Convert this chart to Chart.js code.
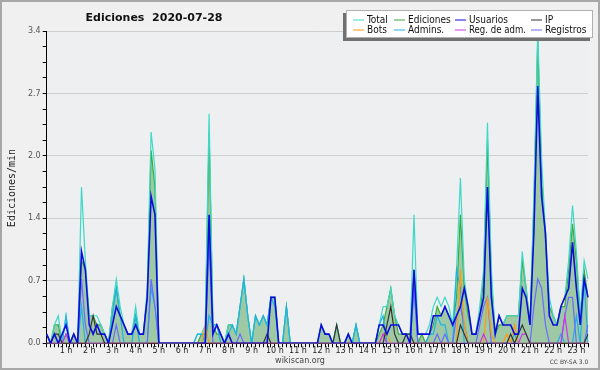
<!DOCTYPE html>
<html><head><meta charset="utf-8">
<script src="https://cdn.jsdelivr.net/npm/chart.js@4/dist/chart.umd.min.js"></script>
<style>html,body{margin:0;padding:0;background:#f0f0f0}canvas{display:block}</style>
</head><body>
<canvas id="c" width="600" height="370"></canvas>
<script>
// ---- data (10-minute bins, first bin 0:10) ----
const times = [];
for (let m = 10; m <= 1410; m += 10) times.push(Math.floor(m/60) + ':' + String(m%60).padStart(2,'0'));
const hourLabels = ['1 h','2 h','3 h','4 h','5 h','6 h','7 h','8 h','9 h','10 h','11 h','12 h','13 h','14 h','15 h','16 h','17 h','18 h','19 h','20 h','21 h','22 h','23 h'];
const yTickLabels = ['0.0','0.7','1.4','2.0','2.7','3.4'];

const total = [
 .1,0,.2,.3,0,.3,  0,.1,0,1.7,.9,.3,  .3,.3,.2,.1,0,.4,  .7,.4,.2,.1,.1,.4,
 .1,.1,.6,2.3,1.9,0,  0,0,0,0,0,0,  0,0,0,.1,.1,.2,  2.5,.2,.2,.1,0,.2,
 .2,.1,.4,.7,.3,0,  .3,.2,.3,.2,.5,.5,  0,0,.4,0,0,0,  0,0,0,0,0,.2,
 .1,.1,0,.2,0,0,  .1,0,.2,0,0,0,  0,0,.2,.4,.4,.6,  .3,.2,.1,.1,.1,1.4,
 .1,.1,.1,.2,.4,.5,  .4,.5,.4,.2,.8,1.8,  .7,.4,.1,.1,.4,.8,  2.4,.8,.1,.3,.2,.3,
 .3,.3,.3,1.0,.6,.2,  1.6,3.4,2.0,1.2,.5,.3,  .2,.4,.5,.9,1.5,1.0,  .3,.9,.7];
const ediciones = [
 0,0,.2,.2,0,.1,  0,.1,0,.9,.8,.3,  .3,.2,.2,.1,0,.4,  .6,.3,.2,.1,.1,.3,
 .1,.1,.5,2.1,1.7,0,  0,0,0,0,0,0,  0,0,0,0,.1,.1,  2.3,.2,.1,.1,0,.2,
 .2,.1,.4,.7,.3,0,  .3,.2,.3,.2,.5,.5,  0,0,.4,0,0,0,  0,0,0,0,0,.2,
 .1,.1,0,.2,0,0,  .1,0,.2,0,0,0,  0,0,.1,.2,.4,.6,  .3,.1,.1,.1,.1,.8,
 0,.1,0,.1,.2,.4,  .3,.4,.3,.2,.5,1.4,  .6,.3,.1,.1,.3,.7,  2.2,.7,.1,.2,.2,.3,
 .3,.3,.3,.9,.6,.2,  1.5,3.3,1.8,1.1,.4,.3,  .2,.4,.4,.8,1.3,.9,  .3,.8,.5];
const usuarios = [
 .1,0,.1,0,.1,.2,  0,.1,0,1.0,.8,.2,  .1,.2,.1,.1,0,.2,  .4,.3,.2,.1,.1,.2,
 .1,.1,.5,1.6,1.4,0,  0,0,0,0,0,0,  0,0,0,0,0,0,  1.4,.1,.2,.1,0,.1,
 0,0,0,0,0,0,  0,0,0,0,.5,.5,  0,0,0,0,0,0,  0,0,0,0,0,.2,
 .1,.1,0,0,0,0,  .1,0,0,0,0,0,  0,0,.2,.2,.1,.2,  .2,.2,.1,.1,0,.8,
 .1,.1,.1,.1,.3,.3,  .3,.4,.3,.2,.3,.4,  .6,.4,.1,.1,.3,.5,  1.7,.5,.1,.3,.2,.2,
 .2,.1,.1,.6,.5,.2,  1.2,2.8,1.6,1.2,.3,.2,  .2,.4,.5,.6,1.1,.6,  .2,.7,.5];
const ip = [
 0,0,.1,.1,0,0,  0,0,0,0,0,.1,  .3,.1,.1,0,0,0,  0,0,0,0,0,0,
 0,0,0,0,0,0,  0,0,0,0,0,0,  0,0,0,0,0,0,  0,0,0,0,0,0,
 0,0,0,0,0,0,  0,0,0,.1,0,0,  0,0,0,0,0,0,  0,0,0,0,0,0,
 0,0,0,.2,0,0,  0,0,0,0,0,0,  0,0,0,0,.2,.4,  .1,0,0,.1,.1,0,
 0,0,0,0,0,0,  0,0,0,0,0,.2,  .1,0,0,0,0,0,  0,0,0,0,0,0,
 .1,0,.1,.2,.1,0,  0,0,0,0,0,0,  0,0,0,0,0,0,  0,0,.1];
const bots = [
 0,0,0,0,0,0,  0,0,0,0,0,0,  0,0,0,0,0,0,  0,0,0,0,0,0,
 0,0,0,0,0,0,  0,0,0,0,0,0,  0,0,0,0,0,.2,  0,0,0,0,0,0,
 0,0,0,0,0,0,  0,0,0,0,0,0,  0,0,0,0,0,0,  0,0,0,0,0,0,
 0,0,0,0,0,0,  0,0,0,0,0,0,  0,0,0,.1,.1,0,  0,0,0,0,0,0,
 0,0,0,0,0,0,  0,0,0,0,0,.8,  .2,0,0,0,0,0,  .5,.1,0,0,0,.1,
 0,.2,0,0,0,0,  0,0,0,0,0,0,  0,0,0,0,0,0,  0,0,0];
const admins = [
 0,0,0,0,0,.3,  0,0,0,.4,0,0,  0,0,0,0,0,.3,  .6,.3,0,0,0,.3,
 0,0,0,.6,.4,0,  0,0,0,0,0,0,  0,0,0,.1,.1,0,  .3,.2,.2,0,0,.1,
 .2,.1,.4,.7,.3,0,  .3,.2,.3,.2,.5,.4,  0,0,.4,0,0,0,  0,0,0,0,0,0,
 0,0,0,0,0,0,  0,0,.2,0,0,0,  0,0,.2,.3,0,0,  0,0,0,0,0,.6,
 0,0,0,.1,.1,.3,  .2,.2,0,0,.8,.6,  0,0,0,0,0,0,  0,0,0,0,0,0,
 0,.1,0,0,0,0,  0,0,0,0,0,0,  0,.1,0,0,0,.3,  0,.7,0];
const regAdm = [
 0,0,0,0,0,.1,  0,0,0,0,0,0,  0,0,0,0,0,0,  0,0,0,0,0,0,
 0,0,0,0,0,0,  0,0,0,0,0,0,  0,0,0,0,0,0,  0,0,0,0,0,0,
 0,0,0,0,0,0,  0,0,0,0,0,0,  0,0,0,0,0,0,  0,0,0,0,0,0,
 0,0,0,0,0,0,  0,0,0,0,0,0,  0,0,0,.1,0,0,  0,0,0,0,0,0,
 0,0,0,0,0,0,  0,0,0,0,0,0,  0,0,0,0,0,.1,  0,0,0,0,0,0,
 0,0,0,.1,.1,0,  0,0,0,0,0,0,  0,0,.3,0,0,0,  0,0,0];
const registros = [
 .1,0,0,0,0,0,  0,0,0,.7,.2,0,  0,0,0,0,0,0,  .2,0,0,0,0,0,
 0,0,0,.7,.4,0,  0,0,0,0,0,0,  0,0,0,0,0,0,  1.1,0,0,0,0,0,
 0,0,.1,0,0,0,  0,0,0,0,0,0,  0,0,0,0,0,0,  0,0,0,0,0,0,
 0,0,0,0,0,0,  0,0,0,0,0,0,  0,0,0,0,0,0,  0,0,0,0,0,.6,
 0,0,0,0,0,.1,  0,.1,0,0,.3,.4,  .2,0,0,0,.2,.4,  .5,0,0,0,0,0,
 0,0,0,0,0,0,  .4,.7,.6,.2,0,0,  0,0,.3,.5,.5,0,  0,0,.2];

const seriesNames = ['Total','Ediciones','Usuarios','IP','Bots','Admins.','Reg. de adm.','Registros'];
const seriesData = [total, ediciones, usuarios, ip, bots, admins, regAdm, registros];
const seriesColors = ['#3ed8c6','#3aaa3a','#0c0cdc','#333333','#ff9a10','#1eb2e6','#cc33ee','#6b6bff'];
const seriesOrder = [9, 10, 3, 4, 6, 8, 5, 7];

const datasets = seriesNames.map((n, k) => ({
  label: n,
  data: seriesData[k],
  borderColor: seriesColors[k],
  backgroundColor: k === 1 ? 'rgba(52,148,60,0.42)' : seriesColors[k],
  fill: k === 1 ? 'origin' : false,
  borderWidth: k === 2 ? 1.6 : 1.2,
  pointRadius: 0,
  tension: 0,
  order: seriesOrder[k]
}));

const decor = {
  id: 'decor',
  beforeDraw(chart) {
    const c = chart.ctx, a = chart.chartArea;
    c.save();
    c.fillStyle = '#f0f0f0';
    c.fillRect(0, 0, chart.width, chart.height);
    c.fillStyle = '#edeff1';
    c.fillRect(a.left, a.top, a.right - a.left, a.bottom - a.top);
    c.strokeStyle = '#a8a8a8';
    c.lineWidth = 2;
    c.strokeRect(1, 1, chart.width - 2, chart.height - 2);
    c.restore();
  },
  afterDraw(chart) {
    const c = chart.ctx;
    c.save();
    // title
    c.fillStyle = '#111';
    c.font = 'bold 11px "DejaVu Sans"';
    c.textAlign = 'center'; c.textBaseline = 'middle';
    c.fillText('Ediciones  2020-07-28', 154, 18);
    // y title
    c.save();
    c.translate(12, 188);
    c.rotate(-Math.PI/2);
    c.font = '10px "DejaVu Sans Mono"';
    c.fillStyle = '#222';
    c.fillText('Ediciones/min', 0, 0);
    c.restore();
    // footer
    c.font = '8px "DejaVu Sans"';
    c.fillStyle = '#444';
    c.fillText('wikiscan.org', 300, 361);
    c.font = '6px "DejaVu Sans"';
    c.fillText('CC BY-SA 3.0', 569, 362);
    // legend
    c.fillStyle = '#707070';
    c.fillRect(343, 13, 247, 28);
    c.fillStyle = '#ffffff';
    c.fillRect(346, 10, 247, 28);
    c.strokeStyle = '#b0b0b0'; c.lineWidth = 1;
    c.strokeRect(346.5, 10.5, 246, 27);
    const colX = [367, 408, 469, 545];
    const colW = [28, 43, 57, 44];
    const rowY = [19.5, 29.5];
    c.font = '10px "DejaVu Sans Condensed", "DejaVu Sans"';
    c.textAlign = 'left';
    chart.data.datasets.forEach((d, k) => {
      const col = k % 4, x = colX[col], y = rowY[Math.floor(k / 4)];
      c.strokeStyle = d.borderColor; c.lineWidth = 1;
      c.beginPath(); c.moveTo(x - 14, y + 0.5); c.lineTo(x - 3, y + 0.5); c.stroke();
      c.fillStyle = '#111';
      c.fillText(d.label, x, y + 0.5, colW[col]);
    });
    c.restore();
  }
};

new Chart(document.getElementById('c'), {
  type: 'line',
  data: { labels: times, datasets },
  plugins: [decor],
  options: {
    responsive: false,
    animation: false,
    layout: { padding: { top: 31, right: 12, bottom: 0, left: 0 } },
    plugins: { legend: { display: false }, title: { display: false }, tooltip: { enabled: false } },
    scales: {
      x: {
        type: 'category',
        afterFit(s) { s.height = 26.7; },
        grid: { drawOnChartArea: false, drawTicks: true, tickLength: 4, tickColor: '#000' },
        border: { display: true, color: '#000', width: 1 },
        ticks: {
          autoSkip: false, maxRotation: 0, minRotation: 0, padding: -1,
          color: '#222', font: { family: 'DejaVu Sans', size: 8 },
          callback: (v, i) => ((i + 1) % 6 === 0 && hourLabels[(i + 1) / 6 - 1]) ? hourLabels[(i + 1) / 6 - 1] : ''
        }
      },
      y: {
        min: 0, max: 3.4,
        afterFit(s) { s.width = 46.7; },
        grid: {
          color: ctx => (ctx.index % 4 === 0 && ctx.index > 0) ? '#cfcfcf' : 'rgba(0,0,0,0)',
          drawTicks: true, tickLength: 4, tickColor: '#000'
        },
        border: { display: true, color: '#000', width: 1 },
        ticks: {
          stepSize: 0.17, padding: 2, autoSkip: false,
          color: '#555', font: { family: 'DejaVu Sans', size: 8 },
          callback: (v, i) => i % 4 === 0 ? yTickLabels[i / 4] : ''
        }
      }
    }
  }
});
</script>
</body></html>
